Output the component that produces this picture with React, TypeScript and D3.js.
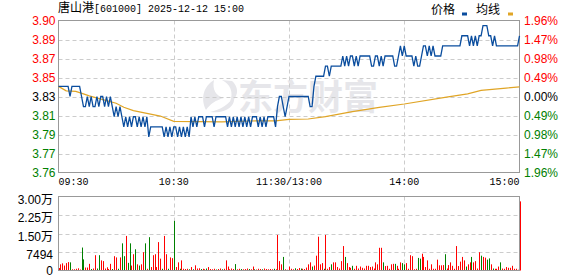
import React from 'react';
import * as d3 from 'd3';

const stockName = '唐山港';
const titleRest = '[601000] 2025-12-12 15:00';
const legendPrice = '价格';
const legendAvg = '均线';
const watermark = '东方财富';
const preClose = 3.83;
const maxPct = 0.0196;
const volMax = 29976;

const priceLabels = ['3.90', '3.89', '3.87', '3.85', '3.83', '3.81', '3.79', '3.77', '3.76'];
const pctLabels = ['1.96%', '1.47%', '0.98%', '0.49%', '0.00%', '0.49%', '0.98%', '1.47%', '1.96%'];
const volLabels = ['3.00万', '2.25万', '1.50万', '7494', '0'];
const timeLabels = ['09:30', '10:30', '11:30/13:00', '14:00', '15:00'];
const timeMinutes = [0, 60, 120, 180, 240];

const prices = [
  3.84, 3.84, 3.84, 3.84, 3.84, 3.84, 3.83, 3.84, 3.84, 3.84,
  3.84, 3.84, 3.83, 3.82, 3.82, 3.83, 3.82, 3.83, 3.82, 3.82,
  3.83, 3.82, 3.83, 3.83, 3.82, 3.83, 3.82, 3.83, 3.82, 3.81,
  3.82, 3.81, 3.82, 3.81, 3.80, 3.81, 3.80, 3.81, 3.80, 3.81,
  3.81, 3.80, 3.81, 3.80, 3.81, 3.80, 3.81, 3.79, 3.80, 3.80,
  3.80, 3.80, 3.80, 3.80, 3.80, 3.79, 3.80, 3.79, 3.80, 3.79,
  3.80, 3.80, 3.79, 3.80, 3.79, 3.80, 3.79, 3.80, 3.79, 3.81,
  3.80, 3.81, 3.80, 3.81, 3.81, 3.81, 3.80, 3.81, 3.81, 3.81,
  3.81, 3.80, 3.81, 3.81, 3.81, 3.81, 3.81, 3.81, 3.80, 3.81,
  3.80, 3.81, 3.80, 3.81, 3.80, 3.81, 3.80, 3.81, 3.80, 3.81,
  3.80, 3.81, 3.81, 3.81, 3.80, 3.81, 3.80, 3.81, 3.80, 3.81,
  3.81, 3.81, 3.81, 3.80, 3.82, 3.83, 3.83, 3.82, 3.81, 3.82,
  3.83, 3.83, 3.83, 3.83, 3.83, 3.83, 3.83, 3.83, 3.83, 3.83,
  3.83, 3.82, 3.82, 3.84, 3.85, 3.85, 3.85, 3.85, 3.85, 3.86,
  3.86, 3.85, 3.86, 3.86, 3.86, 3.86, 3.86, 3.86, 3.87, 3.86,
  3.87, 3.86, 3.87, 3.87, 3.86, 3.87, 3.86, 3.87, 3.87, 3.87,
  3.87, 3.87, 3.87, 3.86, 3.86, 3.87, 3.87, 3.86, 3.87, 3.86,
  3.87, 3.87, 3.87, 3.87, 3.87, 3.86, 3.86, 3.87, 3.88, 3.87,
  3.88, 3.87, 3.87, 3.87, 3.87, 3.86, 3.87, 3.86, 3.86, 3.87,
  3.88, 3.88, 3.87, 3.88, 3.87, 3.88, 3.87, 3.87, 3.87, 3.87,
  3.88, 3.88, 3.88, 3.88, 3.88, 3.88, 3.88, 3.88, 3.88, 3.88,
  3.89, 3.89, 3.89, 3.89, 3.88, 3.89, 3.88, 3.89, 3.88, 3.89,
  3.89, 3.90, 3.90, 3.90, 3.89, 3.89, 3.88, 3.89, 3.88, 3.88,
  3.88, 3.88, 3.88, 3.88, 3.88, 3.88, 3.88, 3.88, 3.88, 3.88,
  3.89,
];

const avgMinutes = [0, 4, 9, 13, 16, 25, 30, 34, 39, 46, 53, 60, 85, 100, 113, 120, 130, 139, 153, 167, 180, 202, 213, 220, 233, 240];
const avgValues = [3.840, 3.8356, 3.835, 3.8326, 3.8306, 3.826, 3.8233, 3.8194, 3.816, 3.8134, 3.8107, 3.8055, 3.805, 3.8058, 3.806, 3.8075, 3.8078, 3.8101, 3.815, 3.8193, 3.8226, 3.8293, 3.8326, 3.836, 3.8383, 3.8395];

const volumes = [
  1000, 2500, 2900, 2000, 3000, 3400, 3300, 500, 500, 700,
  900, 400, 9300, 4500, 1200, 1200, 2700, 600, 800, 6200,
  800, 6200, 4100, 3800, 800, 1300, 600, 2700, 600, 5800,
  5300, 700, 5300, 11000, 5800, 14000, 3100, 11000, 2000, 6600,
  8600, 2500, 2000, 2500, 7400, 11000, 700, 13500, 1400, 6200,
  6600, 1400, 11500, 4800, 700, 14000, 6600, 700, 5300, 5000,
  20100, 1400, 3300, 700, 4100, 700, 600, 700, 500, 1400,
  500, 2100, 800, 900, 600, 700, 500, 800, 1400, 600,
  500, 700, 400, 600, 800, 500, 700, 4100, 1600, 500,
  800, 600, 2600, 500, 700, 600, 500, 600, 800, 600,
  500, 1600, 500, 400, 700, 600, 500, 800, 600, 500,
  600, 500, 700, 500, 14400, 3800, 2500, 5500, 500, 300,
  1600, 700, 500, 900, 600, 1000, 800, 700, 600, 1200,
  2500, 3300, 1600, 2000, 6000, 13700, 2500, 3000, 700, 14400,
  700, 1400, 2500, 3300, 3300, 1400, 800, 3800, 9900, 5500,
  3000, 1400, 1100, 1900, 700, 1900, 800, 1600, 1100, 800,
  1900, 1900, 1400, 1600, 800, 3300, 2500, 9200, 9200, 3300,
  1800, 1900, 700, 2500, 2700, 2700, 1900, 700, 3300, 3000,
  2500, 3000, 700, 6200, 5800, 500, 700, 5100, 4800, 6800,
  5500, 1400, 4100, 700, 2500, 700, 700, 4400, 2100, 2100,
  2200, 6600, 800, 2200, 3300, 1900, 700, 9900, 1800, 3600,
  5500, 4100, 1600, 2500, 3300, 5500, 3300, 3800, 800, 7400,
  6000, 5500, 5200, 4400, 4900, 2500, 800, 700, 700, 1600,
  3300, 800, 700, 1400, 1100, 1100, 1900, 700, 700, 300,
  28000,
];

const volDir = [
  'rrrrrrgrrr', 'rrggrrrgrr', 'ggrrrrrrgr', 'rgrggrggrr', 'grgrrgrgrr',
  'rrrrgrrgrr', 'grrgrrrrgr', 'grrrgrrgrr', 'rrgrrgrrrr', 'rrgrrgrrrg',
  'rrgrrrgrrr', 'rrgrrrrgrr', 'rrrgrrgrrr', 'rrgrrrrrgr', 'rrgrrrrrrg',
  'rrrgrrrrrr', 'rrrrrrrrrg', 'rrrrrgrrrg', 'grrrrrrggr', 'rrrrrrrrrr',
  'rgrrrrrrrr', 'rrgrrgrrrr', 'grrggrgrrr', 'grrrrrrrrr', 'r',
].join('');

const RED = '#ff0000';
const GREEN = '#008000';
const BLUE = '#0a4d9e';
const GOLD = '#e0a526';
const FRAME = '#999999';
const GRID = '#cccccc';

export default function App() {
  const W = 578;
  const H = 276;
  const L = 58.5;
  const R = 519.5;
  const T = 20.5;
  const B = 172.5;
  const VT = 196.5;
  const VB = 270.5;

  const x = d3.scaleLinear().domain([0, 240]).range([L, R]);
  const y = d3.scaleLinear().domain([preClose * (1 - maxPct), preClose * (1 + maxPct)]).range([B, T]);
  const yv = d3.scaleLinear().domain([0, volMax]).range([VB, VT]);
  const gridY = d3.scaleLinear().domain([0, priceLabels.length - 1]).range([T, B]);
  const gridVY = d3.scaleLinear().domain([0, volLabels.length - 1]).range([VT, VB]);

  const priceLine = d3.line<number>().x((_, i) => x(i)).y((d) => y(d));
  const avgLine = d3.line<number>().x((_, i) => x(avgMinutes[i])).y((d) => y(d));

  const labelColor = (i: number) => (i < 4 ? RED : i === 4 ? '#000' : GREEN);
  const sans = 'Liberation Sans, Arial, Noto Sans CJK SC, sans-serif';
  const mono = 'Liberation Mono, DejaVu Sans Mono, monospace';
  const cjk = 'Noto Sans CJK SC, sans-serif';

  const vGrid = [60, 120, 180];

  return (
    <svg width={W} height={H} style={{ position: 'absolute', left: 0, top: 0, background: '#fff' }}>
      <rect x={0} y={0} width={W} height={H} fill="#fff" />
      {/* watermark */}
      <g fill="#e6e6ea">
        <path d="M214,80 C204,86 200,98 206,110 C210,104 216,100 224,98 C216,96 212,90 214,80 Z" />
        <path d="M222,80 C230,84 234,92 230,102 C238,98 240,88 232,81 Z" />
        <path d="M210,112 C220,110 230,104 234,96 C236,106 226,114 210,112 Z" />
        <text x={238} y={110} fontFamily={cjk} fontSize={35} fontWeight={700}>{watermark}</text>
      </g>

      {/* title */}
      <text x={58} y={12} fill="#000">
        <tspan fontFamily={cjk} fontSize={12}>{stockName}</tspan>
        <tspan fontFamily={mono} fontSize={10}>{titleRest}</tspan>
      </text>
      {/* legend */}
      <text x={431} y={14} fontFamily={cjk} fontSize={12} fill="#000">{legendPrice}</text>
      <rect x={462} y={12.5} width={5} height={3} fill={BLUE} />
      <text x={476} y={14} fontFamily={cjk} fontSize={12} fill="#000">{legendAvg}</text>
      <rect x={508} y={12.5} width={5} height={3} fill={GOLD} />

      {/* main grid */}
      {priceLabels.map((_, i) =>
        i > 0 && i < priceLabels.length - 1 ? (
          <line key={'hg' + i} x1={L} x2={R} y1={Math.round(gridY(i)) + 0.5} y2={Math.round(gridY(i)) + 0.5} stroke={GRID} strokeDasharray="4,3" />
        ) : null
      )}
      {vGrid.map((m) => (
        <line key={'vg' + m} x1={Math.round(x(m)) + 0.5} x2={Math.round(x(m)) + 0.5} y1={T} y2={B} stroke={GRID} strokeDasharray="4,3" />
      ))}
      <rect x={L} y={T} width={R - L} height={B - T} fill="none" stroke={FRAME} />

      {/* price labels */}
      {priceLabels.map((t, i) => (
        <text key={'pl' + i} x={55.5} y={gridY(i) + 4.3} textAnchor="end" fontFamily={sans} fontSize={12} fill={labelColor(i)}>{t}</text>
      ))}
      {pctLabels.map((t, i) => (
        <text key={'pc' + i} x={524} y={gridY(i) + 4.3} fontFamily={sans} fontSize={12} fill={labelColor(i)}>{t}</text>
      ))}

      {/* lines */}
      <path d={avgLine(avgValues) || ''} fill="none" stroke={GOLD} strokeWidth={1.2} />
      <path d={priceLine(prices) || ''} fill="none" stroke={BLUE} strokeWidth={1.3} />

      {/* time labels */}
      {timeLabels.map((t, i) => (
        <text key={'tl' + i} x={i === 0 ? L : i === timeLabels.length - 1 ? R : x(timeMinutes[i])} y={185}
          textAnchor={i === 0 ? 'start' : i === timeLabels.length - 1 ? 'end' : 'middle'}
          fontFamily={mono} fontSize={10} fill="#000">{t}</text>
      ))}

      {/* volume grid */}
      {volLabels.map((_, i) =>
        i > 0 && i < volLabels.length - 1 ? (
          <line key={'vhg' + i} x1={L} x2={R} y1={Math.round(gridVY(i)) + 0.5} y2={Math.round(gridVY(i)) + 0.5} stroke={GRID} strokeDasharray="4,3" />
        ) : null
      )}
      {vGrid.map((m) => (
        <line key={'vvg' + m} x1={Math.round(x(m)) + 0.5} x2={Math.round(x(m)) + 0.5} y1={VT} y2={VB} stroke={GRID} strokeDasharray="4,3" />
      ))}
      {volumes.map((v, i) => (
        <rect key={'vb' + i} x={Math.round(x(i)) - 0} y={yv(v)} width={1} height={Math.max(0, VB - yv(v))}
          fill={volDir[i] === 'g' ? GREEN : RED} />
      ))}
      <rect x={L} y={VT} width={R - L} height={VB - VT} fill="none" stroke={FRAME} />
      {volLabels.map((t, i) => (
        <text key={'vl' + i} x={53} y={(i === volLabels.length - 1 ? gridVY(i) : gridVY(i) + 3) + 4.3} textAnchor="end" fontFamily={sans} fontSize={12} fill="#000">{t}</text>
      ))}
    </svg>
  );
}
